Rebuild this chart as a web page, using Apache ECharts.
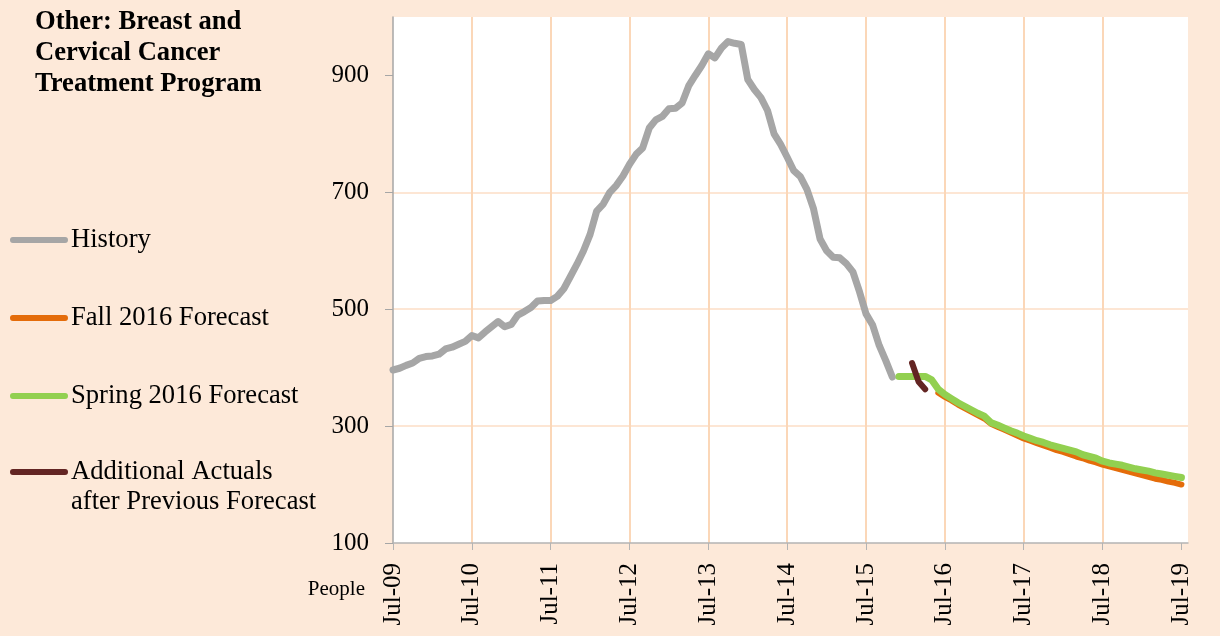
<!DOCTYPE html>
<html>
<head>
<meta charset="utf-8">
<script src="https://cdn.jsdelivr.net/npm/echarts@6/dist/echarts.min.js"></script>
<style>
  html, body { margin: 0; padding: 0; background: #FDE9D9; }
  #chart { width: 1220px; height: 636px; }
</style>
</head>
<body>
<div id="chart"></div>
<script>
// Month index 0 = Jul-09; one unit per month.
const tickLabels = ['Jul-09', 'Jul-10', 'Jul-11', 'Jul-12', 'Jul-13', 'Jul-14',
                    'Jul-15', 'Jul-16', 'Jul-17', 'Jul-18', 'Jul-19'];
const yTicks = [100, 300, 500, 700, 900];

// History: Jul-09 .. Nov-15
const historyStart = 0;
const historyValues = [
  396, 399, 404, 408, 416, 419, 420, 423, 432, 435, 440, 445,
  455, 451, 461, 470, 479, 470, 474, 490, 496, 503, 514, 515,
  515, 522, 535, 556, 577, 600, 628, 668, 680, 700, 712, 728,
  748, 765, 776, 810, 824, 830, 843, 844, 853, 882, 900, 917,
  937, 930, 947, 958, 955, 953, 893, 876, 862, 840, 800, 782,
  760, 737, 727, 705, 672, 620, 600, 589, 588, 578, 564, 530,
  492, 473, 438, 412, 384
];

// Spring 2016 Forecast: Dec-15 .. Jul-19
const springStart = 77;
const springValues = [
  385, 385, 385, 385, 385, 379, 363, 354, 347, 340, 334, 328,
  322, 317, 306, 302, 297, 292, 288, 283, 279, 275, 272, 268,
  265, 262, 259, 256, 251, 248, 245, 240, 237, 235, 233, 230,
  227, 225, 223, 220, 218, 216, 214, 212
];

// Fall 2016 Forecast: Jun-16 .. Jul-19
const fallStart = 83;
const fallValues = [
  357, 350, 344, 337, 331, 325, 319, 313, 304, 299, 294, 289,
  284, 279, 275, 271, 267, 263, 259, 256, 252, 248, 245, 241,
  238, 234, 231, 228, 225, 222, 219, 216, 213, 210, 208, 205,
  203, 200
];

// Additional Actuals after Previous Forecast: Feb-16 .. Apr-16
const actualsStart = 79;
const actualsValues = [408, 376, 363];

const seriesNames = [
  'History',
  'Fall 2016 Forecast',
  'Spring 2016 Forecast',
  'Additional Actuals\nafter Previous Forecast'
];

function toPairs(start, values) {
  return values.map((v, i) => [start + i, v]);
}

const serif = 'Liberation Serif';
const legendIcon = 'path://M3 0H57A3 3 0 0 1 57 6H3A3 3 0 0 1 3 0Z';
const xTickValues = tickLabels.map((_, i) => i * 12);

const legendText = {
  fontFamily: serif,
  fontSize: 26.6,
  lineHeight: 30,
  color: '#000000',
  padding: [0, 0, 0, -2]
};

const legendBase = {
  orient: 'vertical',
  left: 5,
  itemWidth: 58,
  itemHeight: 6,
  itemGap: 48,
  icon: legendIcon,
  itemStyle: { borderWidth: 0 },
  textStyle: legendText
};

const chart = echarts.init(document.getElementById('chart'), null, { renderer: 'canvas' });

chart.setOption({
  backgroundColor: '#FDE9D9',
  animation: false,
  title: {
    text: 'Other: Breast and\nCervical Cancer\nTreatment Program',
    left: 30,
    top: 2,
    textStyle: {
      fontFamily: serif,
      fontWeight: 'bold',
      fontSize: 26.6,
      lineHeight: 31,
      color: '#000000'
    }
  },
  legend: [
    Object.assign({}, legendBase, {
      top: 220,
      data: seriesNames.slice(0, 3)
    }),
    // two-line entry: marker sits beside the first line
    Object.assign({}, legendBase, {
      top: 422,
      data: seriesNames.slice(3),
      formatter: name => ' \n' + name
    })
  ],
  grid: {
    left: 393,
    right: 32,
    top: 17,
    bottom: 93,
    show: true,
    backgroundColor: '#FFFFFF',
    borderWidth: 0
  },
  xAxis: {
    type: 'value',
    min: 0,
    max: 121,
    interval: 12,
    axisLine: { show: true, onZero: false, lineStyle: { color: '#B4B4B4', width: 1.5 } },
    axisTick: { show: true, length: 7, customValues: xTickValues, lineStyle: { color: '#B4B4B4' } },
    axisLabel: {
      rotate: 90,
      margin: 20,
      customValues: xTickValues,
      fontFamily: serif,
      fontSize: 25,
      color: '#000000',
      formatter: v => (v % 12 === 0 && tickLabels[v / 12]) ? tickLabels[v / 12] : ''
    },
    splitLine: {
      show: true,
      showMinLine: false,
      showMaxLine: false,
      lineStyle: { color: '#FBD7B8', width: 2 }
    }
  },
  yAxis: {
    type: 'value',
    min: 100,
    max: 1000,
    interval: 200,
    name: 'People',
    nameLocation: 'start',
    nameGap: 46,
    nameTextStyle: {
      fontFamily: serif,
      fontSize: 21,
      color: '#000000',
      align: 'right',
      verticalAlign: 'middle',
      padding: [0, 28, 0, 0]
    },
    axisLine: { show: true, lineStyle: { color: '#A6A6A6', width: 1.5 } },
    axisTick: { show: true, length: 8, customValues: yTicks, lineStyle: { color: '#A6A6A6' } },
    axisLabel: {
      margin: 24,
      customValues: yTicks,
      fontFamily: serif,
      fontSize: 25,
      color: '#000000',
      formatter: v => (yTicks.indexOf(v) >= 0 ? String(v) : '')
    },
    splitLine: {
      show: true,
      showMinLine: false,
      showMaxLine: false,
      lineStyle: { color: '#FDE6D4', width: 2 }
    }
  },
  series: [
    {
      name: seriesNames[0],
      type: 'line',
      data: toPairs(historyStart, historyValues),
      showSymbol: false,
      symbol: 'none',
      z: 2,
      itemStyle: { color: '#A6A6A6' },
      lineStyle: { color: '#A6A6A6', width: 7, cap: 'round', join: 'round' }
    },
    {
      name: seriesNames[1],
      type: 'line',
      data: toPairs(fallStart, fallValues),
      showSymbol: false,
      symbol: 'none',
      z: 3,
      itemStyle: { color: '#E46C0A' },
      lineStyle: { color: '#E46C0A', width: 6, cap: 'round', join: 'round' }
    },
    {
      name: seriesNames[2],
      type: 'line',
      data: toPairs(springStart, springValues),
      showSymbol: false,
      symbol: 'none',
      z: 4,
      itemStyle: { color: '#92D050' },
      lineStyle: { color: '#92D050', width: 7, cap: 'round', join: 'round' }
    },
    {
      name: seriesNames[3],
      type: 'line',
      data: toPairs(actualsStart, actualsValues),
      showSymbol: false,
      symbol: 'none',
      z: 5,
      itemStyle: { color: '#632523' },
      lineStyle: { color: '#632523', width: 6, cap: 'round', join: 'round' }
    }
  ]
});
</script>
</body>
</html>
